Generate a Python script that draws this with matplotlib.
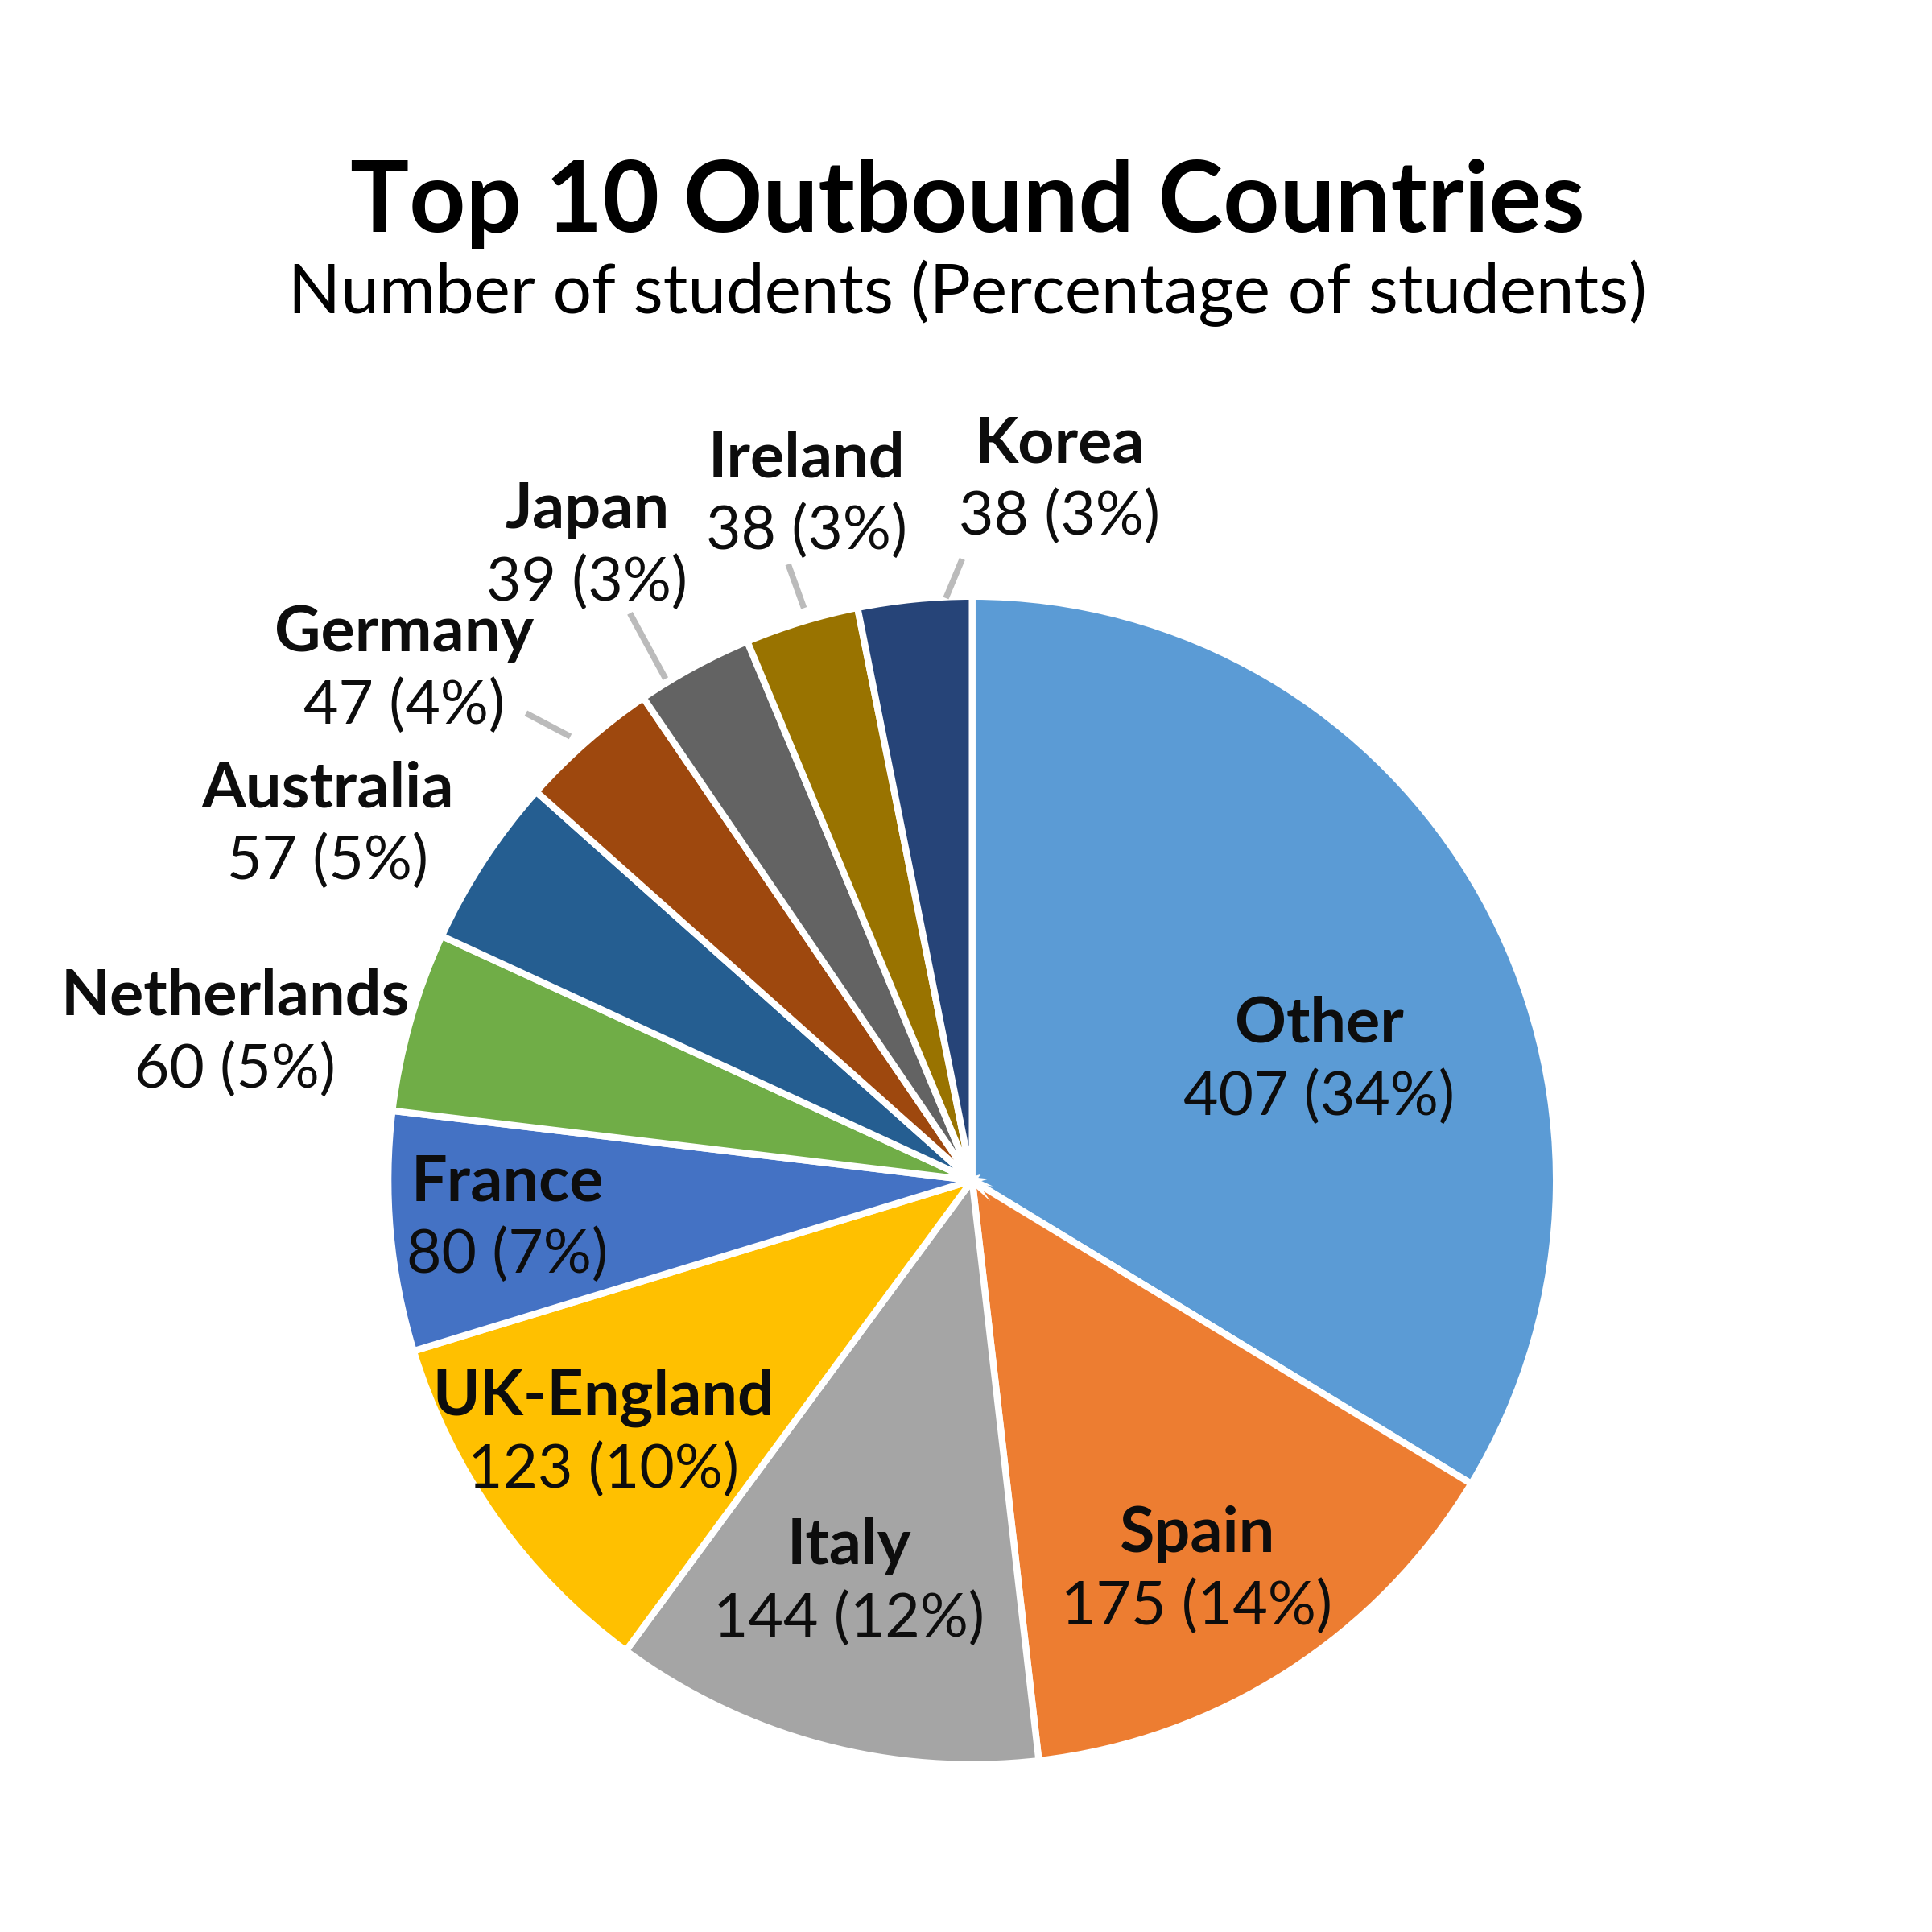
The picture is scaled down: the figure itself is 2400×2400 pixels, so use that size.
import numpy as np
import matplotlib
matplotlib.use("Agg")
import matplotlib.pyplot as plt

plt.rcParams['font.family'] = ['Lato', 'DejaVu Sans']

# data
countries = ["Other", "Spain", "Italy", "UK-England", "France", "Netherlands",
             "Australia", "Germany", "Japan", "Ireland", "Korea"]
students = [407, 175, 144, 123, 80, 60, 57, 47, 39, 38, 38]
colors = ["#5B9BD5", "#ED7D31", "#A5A5A5", "#FFC000", "#4472C4", "#70AD47",
          "#255E91", "#9E480E", "#636363", "#997300", "#264478"]

# label layout (pie radius units)
label_pos = [(0.594, 0.205), (0.385, -0.668), (-0.211, -0.689), (-0.632, -0.434),
             (-0.796, -0.066), (-1.262, 0.252), (-1.104, 0.608), (-0.972, 0.874),
             (-0.660, 1.085), (-0.284, 1.173), (0.150, 1.198)]
leaders = {"Germany": [(-0.764, 0.800), (-0.688, 0.760)],
           "Japan": [(-0.586, 0.971), (-0.525, 0.859)],
           "Ireland": [(-0.315, 1.055), (-0.288, 0.980)],
           "Korea": [(-0.017, 1.064), (-0.045, 0.997)]}

total = sum(students)
W = 1568.0  # reference measured at this scale

fig = plt.figure(figsize=(8, 8), dpi=300)
fig.patch.set_facecolor("white")

cx, cy, r = 789 / W, 1 - 958 / W, 474 / W
ax = fig.add_axes([cx - r, cy - r, 2 * r, 2 * r])
ax.pie(students, colors=colors, startangle=90, counterclock=False, radius=1,
       wedgeprops=dict(edgecolor="white", linewidth=2.0))
ax.set_xlim(-1, 1)
ax.set_ylim(-1, 1)
ax.set_aspect("equal")
ax.axis("off")

dy = 0.062
for name, v, (x, y) in zip(countries, students, label_pos):
    pct = round(v / total * 100)
    ax.text(x, y + dy, name, ha="center", va="center", fontsize=19,
            fontweight="bold", color="#0d0d0d")
    ax.text(x, y - dy, f"{v} ({pct}%)", ha="center", va="center", fontsize=18,
            color="#0d0d0d")

for name, pts in leaders.items():
    (x0, y0), (x1, y1) = pts
    ax.plot([x0, x1], [y0, y1], color="#BBBBBB", linewidth=1.8,
            solid_capstyle="butt", clip_on=False)

fig.text(785 / W, 1 - 188 / W, "Top 10 Outbound Countries", ha="center",
         va="baseline", fontsize=29.3, fontweight="bold", color="black")
fig.text(785 / W, 1 - 254 / W, "Number of students (Percentage of students)",
         ha="center", va="baseline", fontsize=20.5, color="black")

fig.savefig("out.png", dpi=300, facecolor="white")
